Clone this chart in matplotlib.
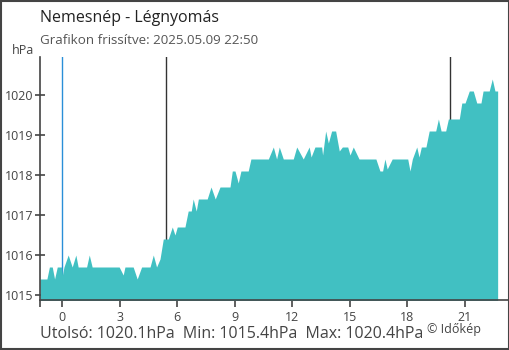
import matplotlib
matplotlib.use("Agg")
import matplotlib.pyplot as plt
from matplotlib.patches import Rectangle

plt.rcParams['font.family'] = ['Open Sans', 'DejaVu Sans']

# hours since midnight (readings go back to 22:50 the day before)
hours = [-1.16, -0.80, -0.67, -0.52, -0.40, -0.26, -0.04, 0.01, 0.09, 0.31,
         0.52, 0.71, 0.83, 1.27, 1.41, 1.56, 2.97, 3.18, 3.27, 3.70,
         3.91, 4.14, 4.58, 4.75, 4.92, 5.10, 5.27, 5.53, 5.74, 5.88,
         6.00, 6.40, 6.57, 6.73, 6.83, 6.99, 7.10, 7.56, 7.76, 7.98,
         8.23, 8.75, 8.87, 9.01, 9.18, 9.32, 9.70, 9.84, 10.75, 11.01,
         11.18, 11.32, 11.53, 12.05, 12.23, 12.57, 12.88, 12.98, 13.18, 13.53,
         13.58, 13.74, 13.88, 14.05, 14.26, 14.45, 14.61, 14.89, 15.01, 15.18,
         15.48, 16.36, 16.57, 16.71, 16.83, 16.95, 17.21, 18.02, 18.14, 18.26,
         18.49, 18.61, 18.73, 18.97, 19.14, 19.48, 19.62, 19.76, 20.00, 20.14,
         20.71, 20.84, 21.01, 21.23, 21.44, 21.62, 21.84, 21.95, 22.27, 22.43,
         22.57, 22.71]
pressure = [1015.4, 1015.4, 1015.7, 1015.7, 1015.4, 1015.7, 1015.7, 1015.5, 1015.7, 1016.0,
            1015.7, 1016.0, 1015.7, 1015.7, 1016.0, 1015.7, 1015.7, 1015.5, 1015.7, 1015.7,
            1015.4, 1015.7, 1015.7, 1016.0, 1015.7, 1015.9, 1016.4, 1016.4, 1016.7, 1016.5,
            1016.7, 1016.7, 1017.1, 1017.1, 1017.4, 1017.1, 1017.4, 1017.4, 1017.7, 1017.4,
            1017.7, 1017.7, 1018.1, 1018.1, 1017.8, 1018.1, 1018.1, 1018.4, 1018.4, 1018.7,
            1018.4, 1018.7, 1018.4, 1018.4, 1018.7, 1018.4, 1018.7, 1018.45, 1018.7, 1018.7,
            1018.5, 1019.1, 1018.8, 1019.1, 1019.1, 1018.6, 1018.7, 1018.7, 1018.5, 1018.7,
            1018.4, 1018.4, 1018.1, 1018.1, 1018.4, 1018.15, 1018.4, 1018.4, 1018.1, 1018.4,
            1018.7, 1018.45, 1018.7, 1018.7, 1019.1, 1019.1, 1019.4, 1019.1, 1019.1, 1019.4,
            1019.4, 1019.8, 1019.8, 1020.1, 1020.1, 1019.8, 1019.8, 1020.1, 1020.1, 1020.4,
            1020.1, 1020.1]

midnight = 0
sunrise = 5.41
sunset = 20.24
x_ticks = [0, 3, 6, 9, 12, 15, 18, 21]
y_ticks = [1015, 1016, 1017, 1018, 1019, 1020]

fig = plt.figure(figsize=(5.1, 3.5), dpi=100)
ax = fig.add_axes([40 / 510, 1 - 300 / 350, 468 / 510, 243 / 350])

ax.axvline(sunrise, color="#333333", lw=1, zorder=1)
ax.axvline(sunset, color="#333333", lw=1, zorder=1)
ax.axvline(midnight, color="#2a8fd8", lw=1, zorder=1)
ax.fill_between(hours, 1014.0, pressure, color="#41c0c2", lw=0, zorder=2)

ax.set_xlim(-1.16, 23.25)
ax.set_ylim(1014.875, 1020.95)

ax.spines["top"].set_visible(False)
ax.spines["right"].set_visible(False)
for s in ("left", "bottom"):
    ax.spines[s].set_color("#444444")
    ax.spines[s].set_linewidth(1.2)
    ax.spines[s].set_zorder(3)

ax.set_xticks([-1.16] + x_ticks)
ax.set_xticklabels([""] + [str(t) for t in x_ticks])
ax.set_yticks(y_ticks)
ax.set_yticklabels([str(t) for t in y_ticks])
ax.tick_params(axis="x", direction="out", length=5, width=1.2, color="#444444",
               labelsize=9, labelcolor="#444444", pad=3)
ax.tick_params(axis="y", direction="inout", length=7, width=1.2, color="#444444",
               labelsize=9, labelcolor="#444444", pad=1)
ax.get_xticklines()[2].set_color("#2a8fd8")

fig.text(40 / 510, 1 - 18 / 350, "Nemesnép - Légnyomás", fontsize=11.5,
         color="#222222", va="center", ha="left")
fig.text(40 / 510, 1 - 41 / 350, "Grafikon frissítve: 2025.05.09 22:50", fontsize=9.6,
         color="#555555", va="center", ha="left")
fig.text(34 / 510, 1 - 50 / 350, "hPa", fontsize=9, color="#444444",
         va="center", ha="right")
fig.text(40 / 510, 1 - 334 / 350, "Utolsó: 1020.1hPa  Min: 1015.4hPa  Max: 1020.4hPa",
         fontsize=11.5, color="#444444", va="center", ha="left")
fig.text(427 / 510, 1 - 330 / 350, "© Időkép", fontsize=9, color="#444444",
         va="center", ha="left")

fig.patches.append(Rectangle((0.001, 0.002), 0.997, 0.996, transform=fig.transFigure,
                             fill=False, edgecolor="#444444", lw=1.5))

fig.savefig("out.png", dpi=100)
